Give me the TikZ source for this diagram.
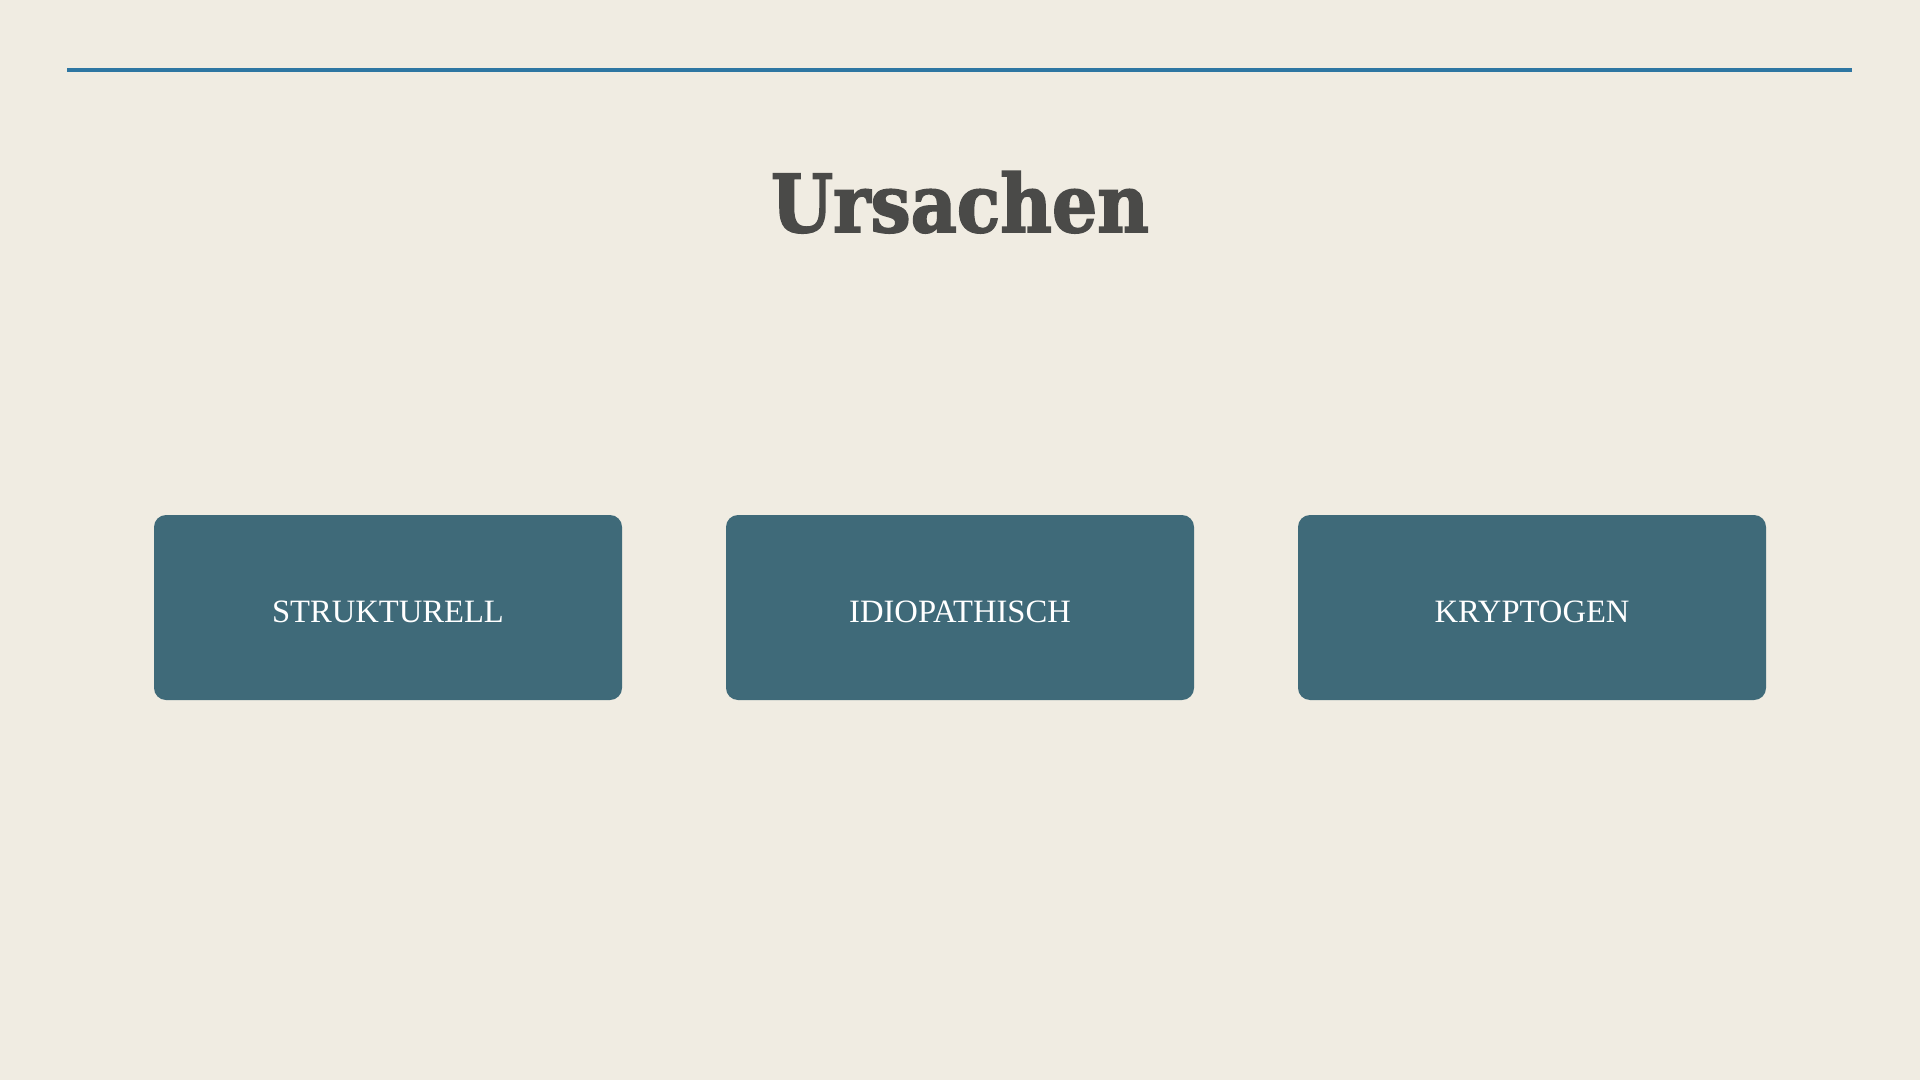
\documentclass[tikz,border=0pt]{standalone}
\usepackage{fontspec}
\setmainfont{Liberation Serif}
\newfontfamily\titlefont{DejaVu Serif}
\usetikzlibrary{positioning}
\definecolor{bg}{RGB}{240,236,226}
\definecolor{rule}{RGB}{46,118,162}
\definecolor{boxc}{RGB}{63,106,121}
\definecolor{titlec}{RGB}{74,74,72}
\tikzset{
  catbox/.style={draw=none, fill=boxc, rounded corners=6pt, minimum width=234pt, minimum height=92.5pt, inner sep=0pt, text=white, font=\fontsize{16.3pt}{19pt}\selectfont},
}
\newcommand{\boxlabel}[1]{\raisebox{-2pt}[\height][\depth]{#1}}
\newcommand{\heavytext}[1]{\special{pdf:literal direct 2 Tr 0.9 w 0.29 0.29 0.282 RG}#1\special{pdf:literal direct 0 Tr}}
\begin{document}
\begin{tikzpicture}[x=0.5pt,y=-0.5pt]
\fill[bg] (0,0) rectangle (1920,1080);
\useasboundingbox (0,0) rectangle (1920,1080);
\coordinate (l1) at (67,70);
\coordinate (l2) at (1852,70);
\draw[rule, line width=1.6pt] (l1) -- (l2);
\node[anchor=base, text=titlec, inner sep=0pt, font=\titlefont\bfseries\fontsize{40pt}{44pt}\selectfont] (title) at (960,232) {\scalebox{0.89}[1]{\heavytext{Ursachen}}};
\node[catbox] (b1) at (388,607.5) {\boxlabel{STRUKTURELL}};
\node[catbox] (b2) at (960,607.5) {\boxlabel{IDIOPATHISCH}};
\node[catbox] (b3) at (1532,607.5) {\boxlabel{KRYPTOGEN}};
\end{tikzpicture}
\end{document}
